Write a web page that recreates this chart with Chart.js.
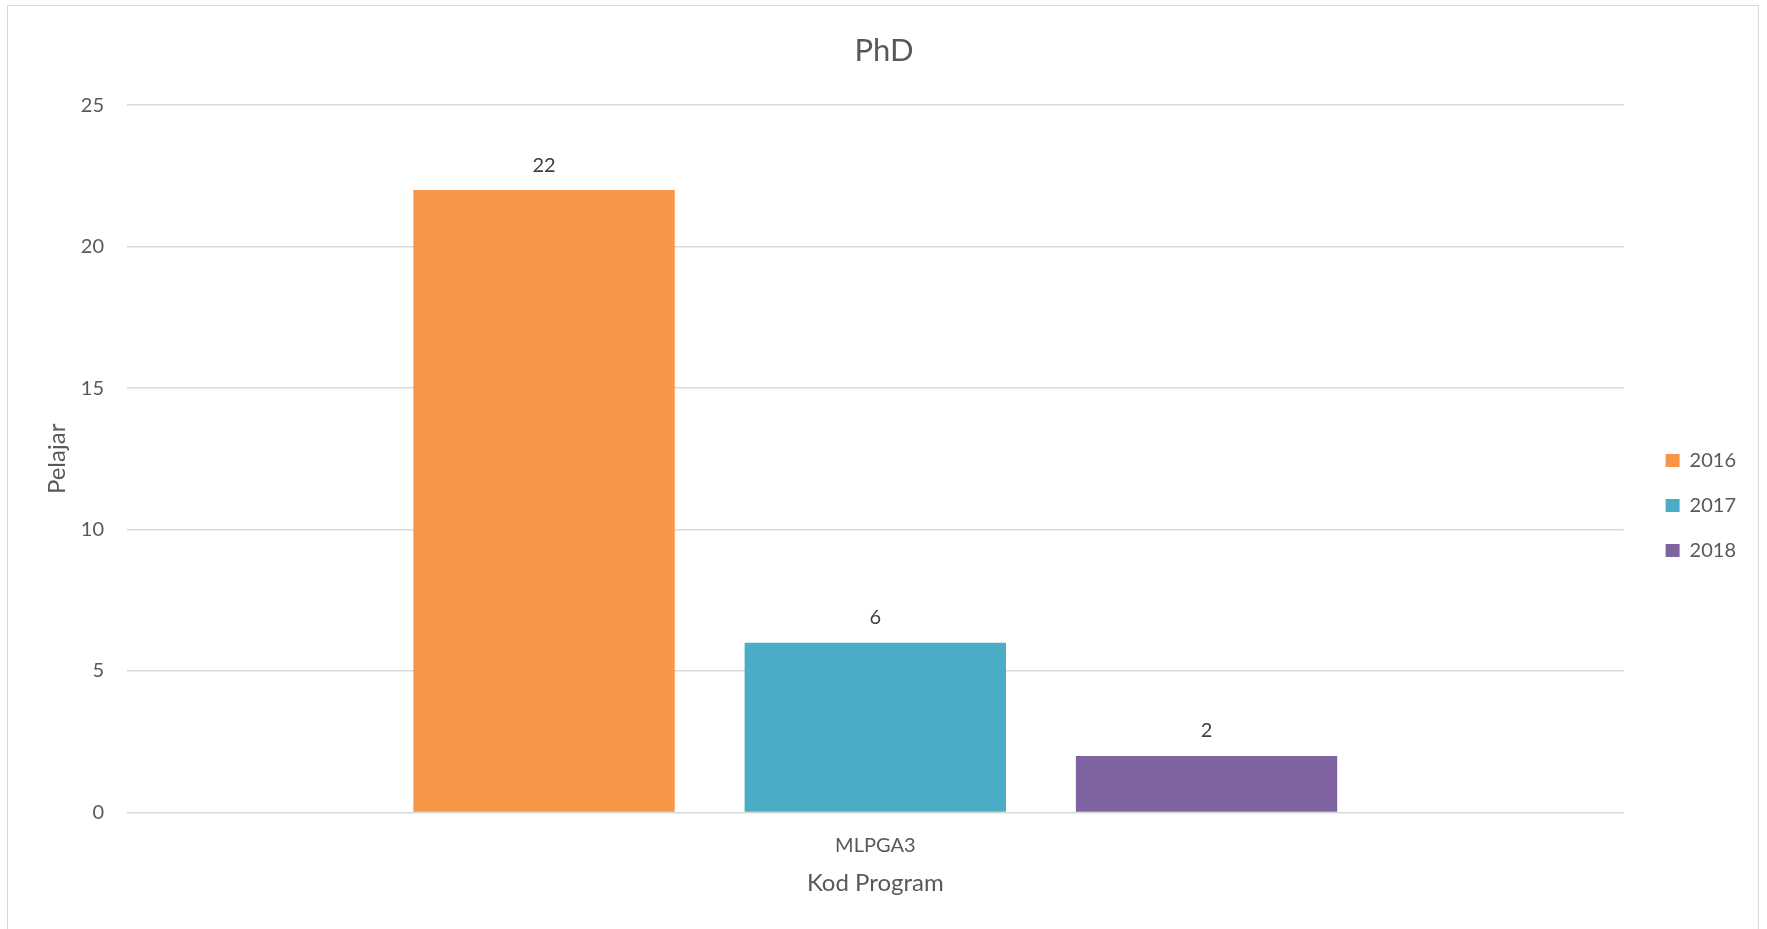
<!DOCTYPE html>
<html>
<head>
<meta charset="utf-8">
<script src="https://cdn.jsdelivr.net/npm/chart.js@4/dist/chart.umd.min.js"></script>
<style>
  html, body { margin: 0; padding: 0; background: #fff; overflow: hidden; }
  #wrap { position: relative; width: 1767px; height: 929px; }
  #frame { position: absolute; left: 7px; top: 5px; width: 1752px; height: 960px; border: 1.5px solid #d9d9d9; box-sizing: border-box; pointer-events: none; }
</style>
</head>
<body>
<div id="wrap">
  <canvas id="myChart" width="1767" height="929"></canvas>
  <div id="frame"></div>
</div>
<script>
// data
const categories = ['MLPGA3'];
const years = ['2016', '2017', '2018'];
const values2016 = [22];
const values2017 = [6];
const values2018 = [2];
const yTicks = [0, 5, 10, 15, 20, 25];

const colors = ['#F79646', '#4BACC6', '#8064A2'];
const textGrey = '#595959';
Chart.defaults.font.family = 'Lato, "Open Sans", sans-serif';

// numbers over the bars
const barLabels = {
  id: 'barLabels',
  afterDatasetsDraw(chart) {
    const ctx = chart.ctx;
    ctx.save();
    ctx.font = '20px Lato, sans-serif';
    ctx.fillStyle = '#404040';
    ctx.textAlign = 'center';
    ctx.textBaseline = 'middle';
    chart.data.datasets.forEach((ds, i) => {
      chart.getDatasetMeta(i).data.forEach((bar, j) => {
        ctx.fillText(ds.data[j], bar.x, bar.y - 25);
      });
    });
    ctx.restore();
  }
};

const ctx = document.getElementById('myChart').getContext('2d');
const chart = new Chart(ctx, {
  type: 'bar',
  data: {
    labels: categories,
    datasets: [
      { label: years[0], data: values2016, backgroundColor: colors[0] },
      { label: years[1], data: values2017, backgroundColor: colors[1] },
      { label: years[2], data: values2018, backgroundColor: colors[2] }
    ]
  },
  options: {
    responsive: false,
    animation: false,
    datasets: { bar: { categoryPercentage: 0.664, barPercentage: 0.789 } },
    layout: { padding: { left: 22, right: 21, top: 10, bottom: 31 } },
    plugins: {
      title: {
        display: true,
        text: 'PhD',
        color: textGrey,
        font: { size: 31, weight: 'normal' },
        padding: { top: 22, bottom: 36 }
      },
      legend: {
        position: 'right',
        // empty title only pushes the items down a bit
        title: { display: true, text: ' ', font: { size: 1, lineHeight: 1 }, padding: { top: 0, bottom: 102 } },
        labels: {
          color: textGrey,
          font: { size: 20 },
          boxWidth: 14,
          boxHeight: 13,
          padding: 25
        }
      },
      tooltip: { enabled: false }
    },
    scales: {
      x: {
        grid: { display: false },
        border: { display: false },
        ticks: { color: textGrey, font: { size: 20 }, padding: 13 },
        title: {
          display: true,
          text: 'Kod Program',
          color: textGrey,
          font: { size: 24 },
          padding: { top: 10, bottom: 0 }
        },
        afterFit: axis => { axis.height = 85.5; }
      },
      y: {
        min: 0,
        max: 25,
        afterBuildTicks: axis => { axis.ticks = yTicks.map(v => ({ value: v })); },
        grid: { color: '#d9d9d9', lineWidth: 1.5, drawTicks: false },
        border: { display: false },
        ticks: { color: textGrey, font: { size: 20 }, padding: 23 },
        title: {
          display: true,
          text: 'Pelajar',
          color: textGrey,
          font: { size: 24 },
          padding: { top: 21, bottom: 10 }
        },
        afterFit: axis => { axis.width = 105; }
      },
      gap: {
        type: 'linear',
        position: 'right',
        display: true,
        grid: { display: false },
        border: { display: false },
        ticks: { display: false },
        afterFit: axis => { axis.width = 17; }
      }
    }
  },
  plugins: [barLabels]
});
</script>
</body>
</html>
